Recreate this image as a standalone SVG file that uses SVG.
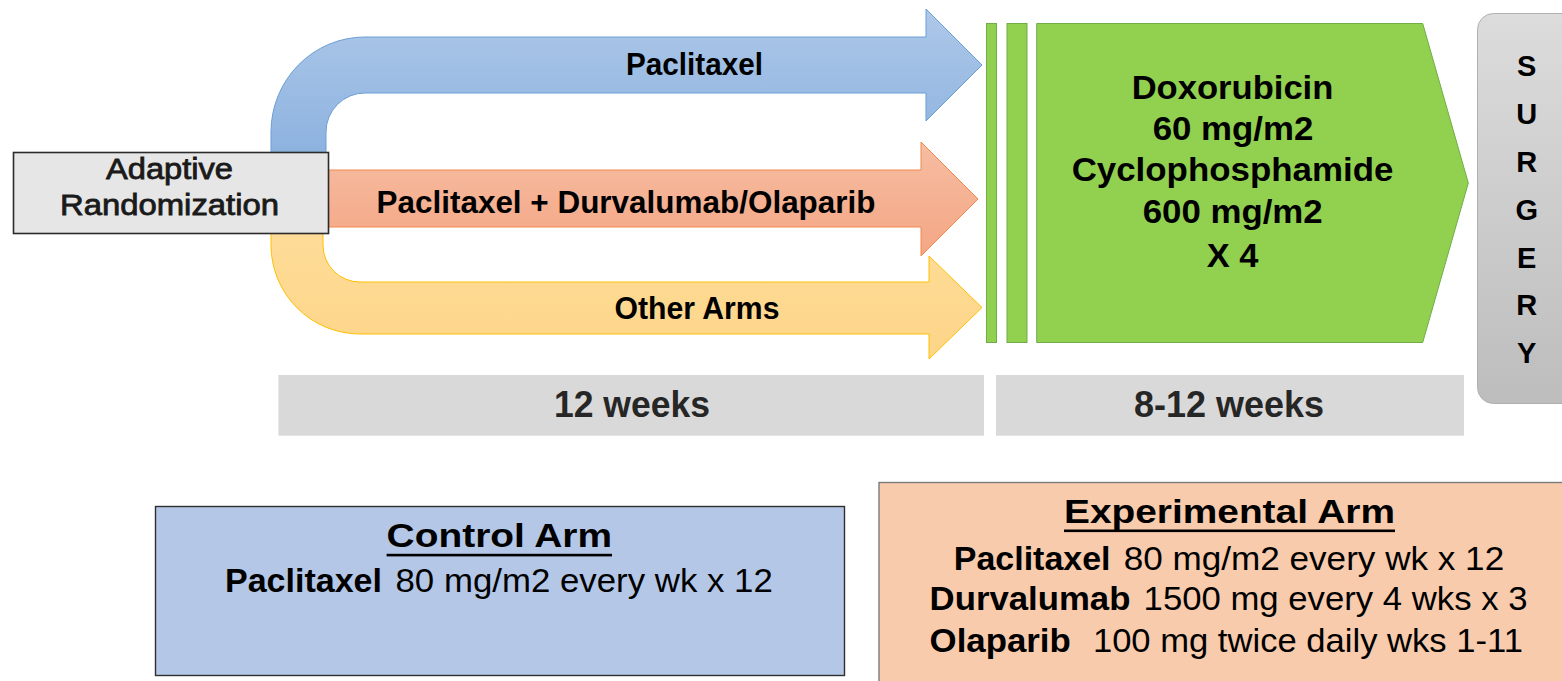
<svg xmlns="http://www.w3.org/2000/svg" width="1562" height="681" viewBox="0 0 1562 681">
<defs>
<linearGradient id="gBlue" gradientUnits="userSpaceOnUse" x1="0" y1="0" x2="0" y2="155">
<stop offset="0" stop-color="#b0c9e9"/>
<stop offset="1" stop-color="#8cb2df"/>
</linearGradient>
<linearGradient id="gOrange" gradientUnits="userSpaceOnUse" x1="0" y1="142" x2="0" y2="256">
<stop offset="0" stop-color="#f6bda2"/>
<stop offset="1" stop-color="#f4a684"/>
</linearGradient>
<linearGradient id="gYellow" gradientUnits="userSpaceOnUse" x1="0" y1="230" x2="0" y2="360">
<stop offset="0" stop-color="#fedc98"/>
<stop offset="1" stop-color="#fdd588"/>
</linearGradient>
<linearGradient id="gSurg" x1="0" y1="0" x2="0" y2="1">
<stop offset="0" stop-color="#dcdcdc"/>
<stop offset="1" stop-color="#bdbdbd"/>
</linearGradient>
</defs>
<style>
text{font-family:"Liberation Sans",Arial,Helvetica,sans-serif;fill:#000}
.b{font-weight:bold}
.lbl{font-size:32px;font-weight:bold;text-anchor:middle}
.grn{font-size:34px;font-weight:bold;text-anchor:middle}
.wk{font-size:37px;font-weight:bold;text-anchor:middle;fill:#262626}
.sg{font-size:29px;font-weight:bold;text-anchor:middle}
.arm{font-size:34px}
.rnd{font-size:29px;text-anchor:middle;fill:#1a1a1a;stroke:#1a1a1a;stroke-width:0.8}
.green{fill:#92d050;stroke:#70ad47;stroke-width:1}
.bar{fill:#d9d9d9}
</style>
<rect width="1562" height="681" fill="#fff"/>

<g id="connectors">
<g id="arrow-paclitaxel">
<path d="M271 160 L271 132 A94 95 0 0 1 365 37 L926 37 L926 9 L982 65 L926 121 L926 93 L365 93 A39 39 0 0 0 326 132 L326 160 Z" fill="url(#gBlue)" stroke="#6a9fd6" stroke-width="1"/>
<text class="lbl" x="694.5" y="75" textLength="137" lengthAdjust="spacingAndGlyphs">Paclitaxel</text>
</g>
<g id="arrow-combo">
<path d="M320 170 L921 170 L921 142 L978 199 L921 256 L921 227 L320 227 Z" fill="url(#gOrange)" stroke="#ef8a4c" stroke-width="1"/>
<text class="lbl" x="626" y="213.3" textLength="499" lengthAdjust="spacingAndGlyphs">Paclitaxel + Durvalumab/Olaparib</text>
</g>
<g id="arrow-other">
<path d="M271 225 L271 245 A89 89 0 0 0 360 334 L929 334 L929 359 L982 307.5 L929 256 L929 282 L360 282 A37 37 0 0 1 323 245 L323 225 Z" fill="url(#gYellow)" stroke="#ffc000" stroke-width="1"/>
<text class="lbl" x="697" y="319.3" textLength="165" lengthAdjust="spacingAndGlyphs">Other Arms</text>
</g>
</g>

<g id="randomization">
<rect x="13.5" y="152.5" width="315" height="81" fill="#e6e6e6" stroke="#2b2b2b" stroke-width="1.6"/>
<text class="rnd" x="169.5" y="178.5" textLength="127" lengthAdjust="spacingAndGlyphs">Adaptive</text>
<text class="rnd" x="169.5" y="214.5" textLength="219" lengthAdjust="spacingAndGlyphs">Randomization</text>
</g>

<g id="ac-regimen">
<rect class="green" x="986.5" y="23.5" width="10" height="319"/>
<rect class="green" x="1007" y="23.5" width="20" height="319"/>
<path class="green" d="M1036.7 23.5 L1422.7 23.5 L1468.3 183 L1422.7 342.5 L1036.7 342.5 Z"/>
<text class="grn" x="1232.5" y="99" textLength="201.7" lengthAdjust="spacingAndGlyphs">Doxorubicin</text>
<text class="grn" x="1233" y="140" textLength="160.6" lengthAdjust="spacingAndGlyphs">60 mg/m2</text>
<text class="grn" x="1232.5" y="181" textLength="321.7" lengthAdjust="spacingAndGlyphs">Cyclophosphamide</text>
<text class="grn" x="1232.7" y="222.7" textLength="180" lengthAdjust="spacingAndGlyphs">600 mg/m2</text>
<text class="grn" x="1232.5" y="266.7" textLength="51.7" lengthAdjust="spacingAndGlyphs">X 4</text>
</g>

<g id="surgery">
<rect x="1477.5" y="13.5" width="110" height="390" rx="16" ry="16" fill="url(#gSurg)" stroke="#b0b0b0" stroke-width="1"/>
<text class="sg" x="1526.7" y="76">S</text>
<text class="sg" x="1526.7" y="124">U</text>
<text class="sg" x="1526.7" y="171.7">R</text>
<text class="sg" x="1526.7" y="220">G</text>
<text class="sg" x="1526.7" y="268">E</text>
<text class="sg" x="1526.7" y="315">R</text>
<text class="sg" x="1526.7" y="362.7">Y</text>
</g>

<g id="weeks-12">
<rect class="bar" x="278.4" y="375" width="705.6" height="60.7"/>
<text class="wk" x="632" y="417.3" textLength="156" lengthAdjust="spacingAndGlyphs">12 weeks</text>
</g>
<g id="weeks-8-12">
<rect class="bar" x="996" y="375" width="468" height="60.7"/>
<text class="wk" x="1229" y="417.3" textLength="190" lengthAdjust="spacingAndGlyphs">8-12 weeks</text>
</g>

<g id="control-arm">
<rect x="155.5" y="506.5" width="689" height="169" fill="#b4c7e7" stroke="#2f2f2f" stroke-width="1.4"/>
<text class="arm b" x="386.6" y="546.7" textLength="225.4" lengthAdjust="spacingAndGlyphs">Control Arm</text>
<rect x="386.6" y="553.8" width="225.4" height="2.6" fill="#000"/>
<text class="arm b" x="225" y="591.7" textLength="157" lengthAdjust="spacingAndGlyphs">Paclitaxel</text>
<text class="arm" x="395.5" y="591.7" textLength="377.3" lengthAdjust="spacingAndGlyphs">80 mg/m2 every wk x 12</text>
</g>

<g id="experimental-arm">
<rect x="879" y="482.5" width="700" height="250" fill="#f8cbad" stroke="#7a7a7a" stroke-width="1.4"/>
<text class="arm b" x="1064" y="523.3" textLength="331" lengthAdjust="spacingAndGlyphs">Experimental Arm</text>
<rect x="1064" y="529.5" width="331" height="2.6" fill="#000"/>
<text class="arm b" x="953.8" y="570" textLength="156.7" lengthAdjust="spacingAndGlyphs">Paclitaxel</text>
<text class="arm" x="1123.7" y="570" textLength="380.5" lengthAdjust="spacingAndGlyphs">80 mg/m2 every wk x 12</text>
<text class="arm b" x="929.6" y="610" textLength="200.8" lengthAdjust="spacingAndGlyphs">Durvalumab</text>
<text class="arm" x="1143.6" y="610" textLength="383.9" lengthAdjust="spacingAndGlyphs">1500 mg every 4 wks x 3</text>
<text class="arm b" x="929.6" y="651.7" textLength="141.2" lengthAdjust="spacingAndGlyphs">Olaparib</text>
<text class="arm" x="1092.9" y="651.7" textLength="430" lengthAdjust="spacingAndGlyphs">100 mg twice daily wks 1-11</text>
</g>
</svg>
